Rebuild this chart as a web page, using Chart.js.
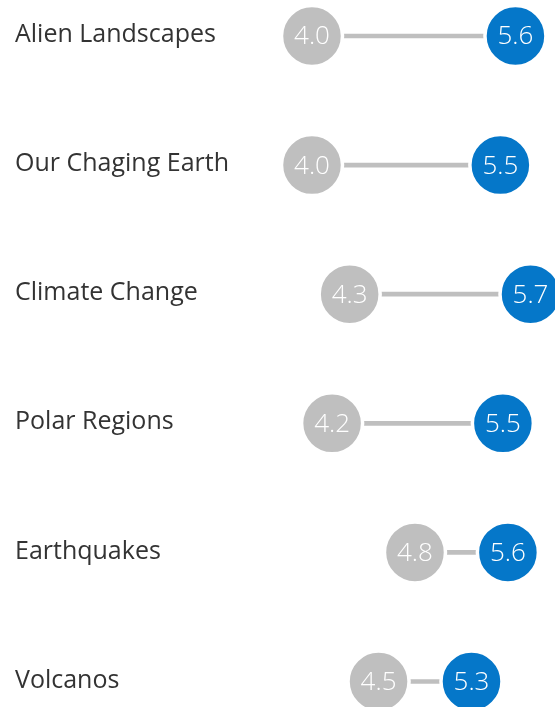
<!DOCTYPE html>
<html>
<head>
<meta charset="utf-8">
<script src="https://cdn.jsdelivr.net/npm/chart.js@4"></script>
<style>
    html, body { margin: 0; padding: 0; background: #fff; overflow: hidden; }
    canvas { display: block; }
</style>
</head>
<body>
<canvas id="chart" width="555" height="707"></canvas>
<script>
// --- data ---
const topics = ["Alien Landscapes", "Our Chaging Earth", "Climate Change", "Polar Regions", "Earthquakes", "Volcanos"];
const beforeScores = [4.00, 4.00, 4.30, 4.16, 4.82, 4.53];
const afterScores = [5.62, 5.50, 5.74, 5.52, 5.56, 5.27];

const GREY = "#bfbfbf";
const BLUE = "#0577c9";
const FONT = "'Open Sans', 'Noto Sans', sans-serif";

// writes the score inside each circle
const valueLabels = {
    id: "valueLabels",
    afterDatasetsDraw(chart) {
        const ctx = chart.ctx;
        ctx.save();
        ctx.font = "300 26px " + FONT;
        ctx.fillStyle = "#ffffff";
        ctx.textAlign = "center";
        ctx.textBaseline = "middle";
        chart.data.datasets.forEach((ds, i) => {
            if (ds.type !== "scatter") return;
            const meta = chart.getDatasetMeta(i);
            meta.data.forEach((pt, j) => {
                const v = ds.data[j].x;
                ctx.fillText((Math.round(v * 10) / 10).toFixed(1), pt.x, pt.y + 1);
            });
        });
        ctx.restore();
    }
};

new Chart(document.getElementById("chart"), {
    type: "bar",
    data: {
        labels: topics,
        datasets: [
            {
                type: "bar",
                data: topics.map((t, i) => [beforeScores[i], afterScores[i]]),
                backgroundColor: GREY,
                barThickness: 4,
                borderSkipped: false,
                clip: false,
                order: 3
            },
            {
                type: "scatter",
                data: topics.map((t, i) => ({ x: beforeScores[i], y: t })),
                backgroundColor: GREY,
                borderColor: "#ffffff",
                borderWidth: 3.5,
                pointRadius: 30.5,
                pointHoverRadius: 30.5,
                clip: false,
                order: 1
            },
            {
                type: "scatter",
                data: topics.map((t, i) => ({ x: afterScores[i], y: t })),
                backgroundColor: BLUE,
                borderColor: "#ffffff",
                borderWidth: 3.5,
                pointRadius: 30.5,
                pointHoverRadius: 30.5,
                clip: false,
                order: 1
            }
        ]
    },
    options: {
        indexAxis: "y",
        responsive: false,
        animation: false,
        layout: {
            autoPadding: false,
            padding: { left: 15, right: 0, top: 36, bottom: 25.5 }
        },
        plugins: {
            legend: { display: false },
            tooltip: { enabled: false }
        },
        scales: {
            x: {
                type: "linear",
                display: false,
                min: 3.5,
                max: 5.935
            },
            y: {
                type: "category",
                offset: false,
                grid: { display: false },
                border: { display: false },
                ticks: {
                    crossAlign: "far",
                    labelOffset: -1,
                    color: "#333333",
                    font: { family: FONT, size: 25 }
                },
                afterFit: (scale) => { scale.width = 234.2; }
            }
        }
    },
    plugins: [valueLabels]
});
</script>
</body>
</html>
